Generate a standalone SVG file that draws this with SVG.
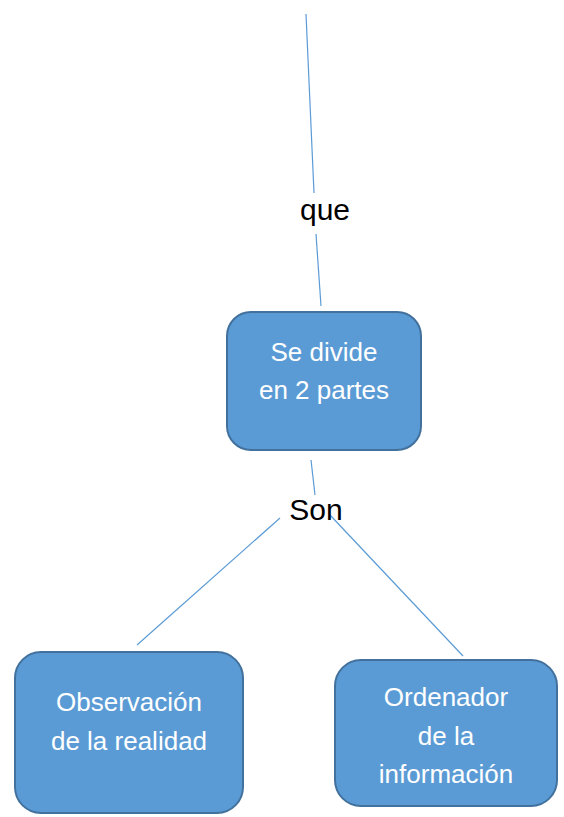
<svg xmlns="http://www.w3.org/2000/svg" width="564" height="817" viewBox="0 0 564 817">
<style>
.box{fill:#5b9bd5;stroke:#41719c;stroke-width:2}
.bt{font-family:"Liberation Sans",Arial,sans-serif;font-size:26px;fill:#fff;text-anchor:middle}
.lbl{font-family:"Liberation Sans",Arial,sans-serif;font-size:30px;fill:#000;text-anchor:middle}
.ln{stroke:#5b9bd5;stroke-width:1.2;fill:none}
</style>
<rect width="564" height="817" fill="#fff"/>
<g id="connectors">
<line class="ln" x1="306" y1="14" x2="314" y2="193"/>
<line class="ln" x1="316" y1="234" x2="321" y2="306"/>
<line class="ln" x1="311" y1="460" x2="315" y2="495"/>
<line class="ln" x1="280" y1="518" x2="137" y2="645"/>
<line class="ln" x1="330" y1="515" x2="463" y2="656"/>
</g>
<g id="label-que"><text class="lbl" x="325" y="220">que</text></g>
<g id="label-son"><text class="lbl" x="316" y="520">Son</text></g>
<g id="node-divide">
<rect class="box" x="227" y="312" width="194" height="138" rx="24"/>
<text class="bt" x="324" y="361">Se divide</text>
<text class="bt" x="324" y="399">en 2 partes</text>
</g>
<g id="node-observacion">
<rect class="box" x="15" y="652" width="228" height="161" rx="26"/>
<text class="bt" x="129" y="711">Observación</text>
<text class="bt" x="129" y="750">de la realidad</text>
</g>
<g id="node-ordenador">
<rect class="box" x="335" y="660" width="222" height="146" rx="26"/>
<text class="bt" x="446" y="706">Ordenador</text>
<text class="bt" x="446" y="745">de la</text>
<text class="bt" x="446" y="783">información</text>
</g>
</svg>
